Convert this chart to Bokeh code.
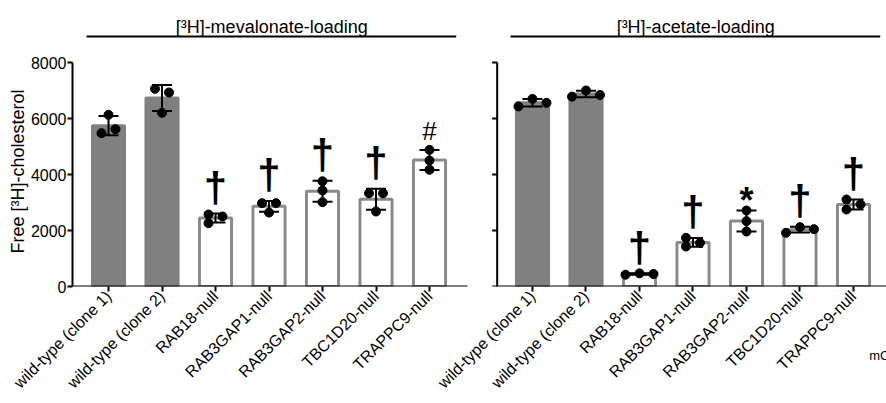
import math
import numpy as np
from bokeh.plotting import figure
from bokeh.models import Range1d, FixedTicker, ColumnDataSource, Whisker, TeeHead, Title
from bokeh.embed import file_html
from bokeh.resources import INLINE
from bokeh.core.properties import value

# ---------------- data ----------------
categories = ["wild-type (clone 1)", "wild-type (clone 2)", "RAB18-null",
              "RAB3GAP1-null", "RAB3GAP2-null", "TBC1D20-null", "TRAPPC9-null"]
genotype = ["wild-type", "wild-type", "null", "null", "null", "null", "null"]

mevalonate_points = [
    [5476, 6131, 5619],
    [7060, 6929, 6202],
    [2262, 2571, 2500],
    [2976, 2976, 2640],
    [3760, 3429, 3012],
    [3330, 3330, 2680],
    [4880, 4500, 4170],
]
acetate_points = [
    [6430, 6700, 6560],
    [6780, 7000, 6840],
    [420, 470, 445],
    [1738, 1429, 1560],
    [2714, 2333, 1964],
    [1917, 2119, 2048],
    [3107, 2750, 2929],
]
mevalonate_marks = ["", "", "†", "†", "†", "†", "#"]
acetate_marks = ["", "", "†", "†", "*", "†", "†"]
panel_titles = ["[³H]-mevalonate-loading", "[³H]-acetate-loading"]
y_ticks = [0, 2000, 4000, 6000, 8000]
y_label = "Free [³H]-cholesterol"
cut_text = "mChe"

# ---------------- layout / style ----------------
FONT = "Liberation Sans"
W, H = 886, 403
BORDER_L, BORDER_B = 72, 117
FRAME_W, FRAME_H = W - BORDER_L, H - BORDER_B
CAT_PX = 53.5
AXIS_PX = 224
UNITS_PER_PX = y_ticks[-1] / AXIS_PX
X0 = -0.673
X1 = X0 + FRAME_W / CAT_PX
Y1 = FRAME_H * UNITS_PER_PX
PANEL_SHIFT = 7.925
AXIS_PAD = 0.66
BAR_W = 0.6
DOT_PX = 9
STEP_PX = 14
FILL = {"wild-type": "#808080", "null": "white"}
EDGE = {"wild-type": "#808080", "null": "#8a8a8a"}
# symbol -> (font size, font style, vertical offset in px)
MARK_STYLE = {"†": ("42px", "bold", -26), "#": ("26px", "normal", -19), "*": ("36px", "bold", -10)}
YLABEL_OFFSET = 33   # px from the frame bottom to the start of the y-axis title
CUT_TEXT_STANDOFF = -52


def fy_to_data(fy):
    return (FRAME_H - fy) * UNITS_PER_PX


def swarm_offsets(vals):
    n = len(vals)
    order = sorted(range(n), key=lambda i: vals[i])
    clusters = [[order[0]]]
    for a, b in zip(order[:-1], order[1:]):
        if (vals[b] - vals[a]) / UNITS_PER_PX < DOT_PX:
            clusters[-1].append(b)
        else:
            clusters.append([b])
    off = [0.0] * n
    for c in clusters:
        m = len(c)
        span = (vals[c[-1]] - vals[c[0]]) / UNITS_PER_PX
        if m == 3 and span >= 8:
            off[c[0]] = off[c[2]] = -STEP_PX / 2
            off[c[1]] = STEP_PX / 2
        else:
            for k, i in enumerate(sorted(c)):
                off[i] = (k - (m - 1) / 2) * STEP_PX
    return [o / CAT_PX for o in off]


p = figure(width=W, height=H, x_range=Range1d(X0, X1), y_range=Range1d(0, Y1),
           output_backend="svg", toolbar_location=None,
           min_border_left=BORDER_L, min_border_right=0,
           min_border_top=0, min_border_bottom=BORDER_B)
p.outline_line_color = None
p.xgrid.visible = False
p.ygrid.visible = False
p.background_fill_color = "white"
p.border_fill_color = "white"

all_ticks = []
overrides = {}

for panel, (points, marks, title) in enumerate(
        [(mevalonate_points, mevalonate_marks, panel_titles[0]),
         (acetate_points, acetate_marks, panel_titles[1])]):
    shift = panel * PANEL_SHIFT
    xs = [shift + i for i in range(len(categories))]
    for x, c in zip(xs, categories):
        all_ticks.append(x)
        overrides[x] = c
    means = [float(np.mean(v)) for v in points]
    sds = [float(np.std(v, ddof=1)) for v in points]

    bars = ColumnDataSource(dict(
        x=xs, top=means,
        fill=[FILL[g] for g in genotype], edge=[EDGE[g] for g in genotype],
        upper=[m + s for m, s in zip(means, sds)],
        lower=[m - s for m, s in zip(means, sds)]))
    p.vbar(x="x", top="top", width=BAR_W, fill_color="fill", line_color="edge",
           line_width=3, source=bars)
    wh = Whisker(source=bars, base="x", upper="upper", lower="lower",
                 line_color="black", line_width=2, level="annotation",
                 upper_head=TeeHead(size=20, line_width=2, line_color="black"),
                 lower_head=TeeHead(size=20, line_width=2, line_color="black"))
    p.add_layout(wh)

    px, py = [], []
    for x, v in zip(xs, points):
        for o, val in zip(swarm_offsets(v), v):
            px.append(x + o)
            py.append(val)
    p.scatter(px, py, size=DOT_PX, color="black", level="annotation")

    for sym, (size, style, off) in MARK_STYLE.items():
        mx, my = [], []
        for x, v, m, s, mk in zip(xs, points, means, sds, marks):
            if mk == sym:
                mx.append(x)
                my.append(max(m + s, max(v)))
        if not mx:
            continue
        p.text(x=mx, y=my, text=[sym] * len(mx), text_align="center",
               text_baseline="alphabetic", text_font=value(FONT),
               text_font_size=size, text_font_style=style, y_offset=off,
               text_color="black")

    # panel title and its rule
    p.text(x=[shift + 3.05], y=[fy_to_data(26)], text=[title], text_align="center",
           text_baseline="alphabetic", text_font=value(FONT), text_font_size="18px",
           text_color="black")
    p.segment(x0=[shift - 0.41], x1=[shift + 6.5], y0=[fy_to_data(36)], y1=[fy_to_data(36)],
              line_color="black", line_width=2)

    # panel x-axis line
    x_left = X0 if panel == 0 else shift - AXIS_PAD
    x_right = 6.69 if panel == 0 else X1 + 1
    p.segment(x0=[x_left], x1=[x_right], y0=[0], y1=[0], line_color="black",
              line_width=2, line_cap="square")

    if panel == 1:
        ax = shift - AXIS_PAD
        p.segment(x0=[ax], x1=[ax], y0=[y_ticks[0]], y1=[y_ticks[-1]],
                  line_color="black", line_width=2)
        p.segment(x0=[ax - 5 / CAT_PX] * len(y_ticks), x1=[ax] * len(y_ticks),
                  y0=y_ticks, y1=y_ticks, line_color="black", line_width=2)

# y axis (left panel)
ya = p.yaxis[0]
ya.ticker = FixedTicker(ticks=y_ticks)
ya.bounds = (y_ticks[0], y_ticks[-1])
ya.axis_line_width = 2
ya.major_tick_line_width = 2
ya.major_tick_out = 5
ya.major_tick_in = 0
ya.minor_tick_line_color = None
ya.major_label_text_font = FONT
ya.major_label_text_font_size = "16px"
ya.major_label_text_color = "black"
ya.major_label_standoff = 1

# y-axis title placed along the 0-8000 span rather than the full frame
p.add_layout(Title(text=y_label, align="left", offset=YLABEL_OFFSET, standoff=0,
                   text_font=FONT, text_font_size="18px", text_font_style="normal",
                   text_color="black"), "left")

xa = p.xaxis[0]
xa.ticker = FixedTicker(ticks=all_ticks)
xa.major_label_overrides = overrides
xa.major_label_orientation = math.pi / 4
xa.axis_line_color = None
xa.major_tick_line_width = 2
xa.major_tick_out = 5
xa.major_tick_in = 0
xa.minor_tick_line_color = None
xa.major_label_text_font = FONT
xa.major_label_text_font_size = "16px"
xa.major_label_text_color = "black"
xa.major_label_standoff = 2

# cropped text at the lower right corner, carried by the x axis' own label
xa.axis_label = cut_text
xa.axis_label_align = "end"
xa.axis_label_standoff = CUT_TEXT_STANDOFF
xa.axis_label_text_align = "right"
xa.axis_label_text_font = FONT
xa.axis_label_text_font_size = "13px"
xa.axis_label_text_font_style = "normal"
xa.axis_label_text_color = "black"

open("out.html", "w").write(file_html(p, INLINE))
